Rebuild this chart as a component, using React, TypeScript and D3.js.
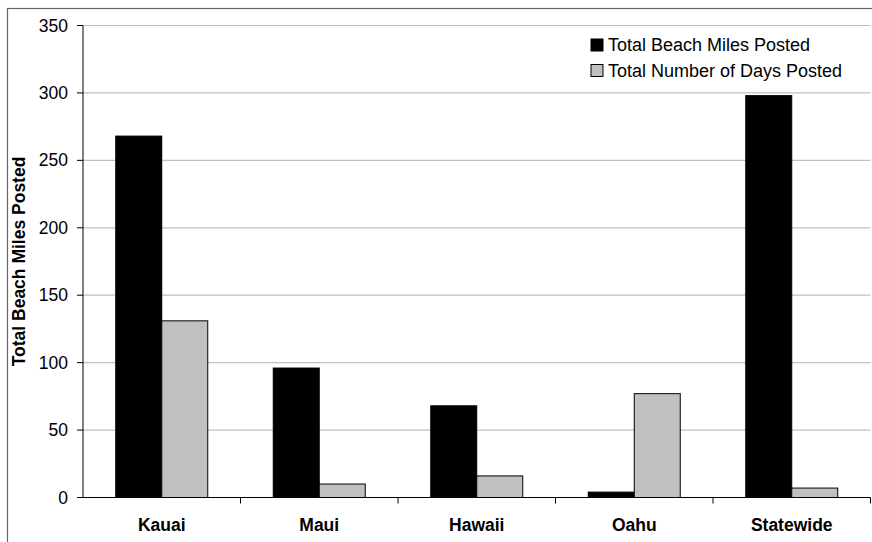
import React from "react";
import * as d3 from "d3";

const categories = ["Kauai", "Maui", "Hawaii", "Oahu", "Statewide"];
const beachMiles = [268, 96, 68, 4, 298];
const daysPosted = [131, 10, 16, 77, 7];
const seriesNames = ["Total Beach Miles Posted", "Total Number of Days Posted"];
const seriesColors = ["#000000", "#c0c0c0"];
const yTicks = [0, 50, 100, 150, 200, 250, 300, 350];
const yTitle = "Total Beach Miles Posted";

const W = 872;
const H = 542;
const left = 83;
const right = 870.5;
const top = 25.5;
const bottom = 497.5;
const FONT = "'Liberation Sans', Arial, sans-serif";

export default function App() {
  const x = d3.scaleBand<string>().domain(categories).range([left, right]).paddingInner(0).paddingOuter(0);
  const y = d3.scaleLinear().domain([0, 350]).range([bottom, top]);
  const barW = 46;
  const series = [beachMiles, daysPosted];

  return (
    <svg width={W} height={H} style={{ position: "absolute", left: 0, top: 0, background: "#fff" }} fontFamily={FONT}>
      <rect x={0} y={0} width={W} height={H} fill="#fff" />
      {/* outer chart border */}
      <rect x={7.5} y={8.5} width={W + 20} height={H + 20} fill="none" stroke="#666" strokeWidth={1.2} />
      {/* gridlines */}
      {yTicks.filter((t) => t > 0).map((t) => (
        <line key={t} x1={left} x2={right} y1={y(t)} y2={y(t)} stroke="#c0c0c0" strokeWidth={1.2} />
      ))}
      {/* bars */}
      {categories.map((c, i) => {
        const cx = (x(c) as number) + x.bandwidth() / 2;
        return series.map((s, k) => (
          <rect
            key={c + k}
            x={cx - barW + k * barW}
            y={y(s[i])}
            width={barW}
            height={y(0) - y(s[i])}
            fill={seriesColors[k]}
            stroke="#000"
            strokeWidth={1}
          />
        ));
      })}
      {/* y axis */}
      <line x1={left} x2={left} y1={top} y2={bottom} stroke="#000" strokeWidth={1} />
      {yTicks.map((t) => (
        <g key={t}>
          <line x1={left - 6} x2={left} y1={y(t)} y2={y(t)} stroke="#000" />
          <text x={68} y={y(t) + 6} textAnchor="end" fontSize={17.5} fill="#000">
            {t}
          </text>
        </g>
      ))}
      {/* x axis */}
      <line x1={left} x2={right} y1={bottom} y2={bottom} stroke="#000" strokeWidth={1} />
      {categories.map((c) => (
        <line key={c} x1={(x(c) as number) + x.bandwidth()} x2={(x(c) as number) + x.bandwidth()} y1={bottom} y2={bottom + 6} stroke="#000" />
      ))}
      {categories.map((c) => (
        <text key={c} x={(x(c) as number) + x.bandwidth() / 2} y={530.5} textAnchor="middle" fontSize={17.5} fontWeight="bold" fill="#000">
          {c}
        </text>
      ))}
      {/* y title */}
      <text transform={`translate(25, ${(top + bottom) / 2}) rotate(-90)`} textAnchor="middle" fontSize={17.5} fontWeight="bold" fill="#000">
        {yTitle}
      </text>
      {/* legend */}
      {seriesNames.map((n, k) => (
        <g key={n} transform={`translate(591, ${39 + k * 25.5})`}>
          <rect x={0} y={0} width={12} height={12} fill={seriesColors[k]} stroke="#000" strokeWidth={1} />
          <text x={17} y={12} fontSize={18} fill="#000">
            {n}
          </text>
        </g>
      ))}
    </svg>
  );
}
